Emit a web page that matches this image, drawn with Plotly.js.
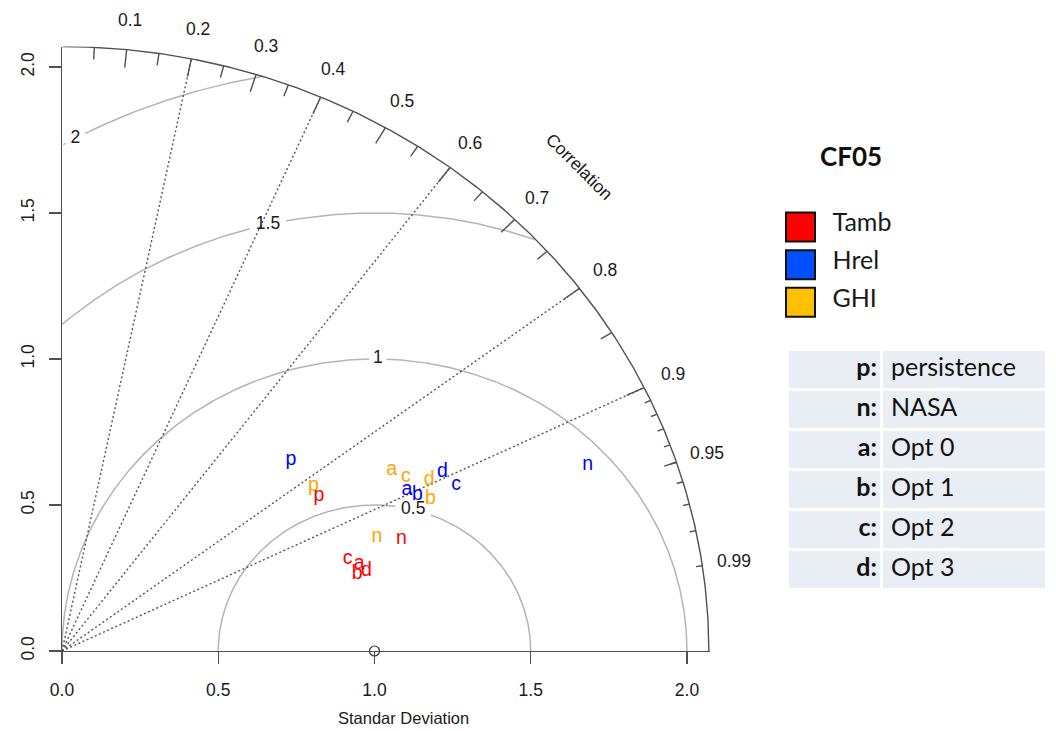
<!DOCTYPE html>
<html><head><meta charset="utf-8">
<script src="https://cdn.plot.ly/plotly-3.0.1.min.js"></script>
<style>html,body{margin:0;padding:0;background:#fff}</style>
</head><body><div id="chart" style="width:1056px;height:731px"></div>
<script>
// ---------------- data ----------------
const variables = ['Tamb', 'Hrel', 'GHI'];
const letterColors = ['#ff0000', '#0000ff', '#ffa500'];
const legendColors = ['#ff0000', '#0050ff', '#ffc000'];
const modelCodes = ['p', 'n', 'a', 'b', 'c', 'd'];
const modelNames = ['persistence', 'NASA', 'Opt 0', 'Opt 1', 'Opt 2', 'Opt 3'];
// normalised standard deviation and correlation per model (p, n, a, b, c, d)
const tambSD  = [0.979, 1.152, 0.997, 0.981, 0.967, 1.012];
const tambCor = [0.840, 0.943, 0.954, 0.963, 0.945, 0.963];
const hrelSD  = [0.982, 1.799, 1.233, 1.257, 1.383, 1.363];
const hrelCor = [0.746, 0.935, 0.895, 0.905, 0.912, 0.893];
const ghiSD   = [0.982, 1.080, 1.224, 1.289, 1.252, 1.313];
const ghiCor  = [0.819, 0.933, 0.862, 0.915, 0.879, 0.895];
const refSD = 1.0;
const maxSD = 2.07;
const sdTicks = [0, 0.5, 1, 1.5, 2];
const sdTickText = ['0.0', '0.5', '1.0', '1.5', '2.0'];
const corLabels = [0.1, 0.2, 0.3, 0.4, 0.5, 0.6, 0.7, 0.8, 0.9, 0.95, 0.99];
const corBigTicks = [0.1, 0.2, 0.3, 0.4, 0.5, 0.6, 0.7, 0.8, 0.9];
const corMedTicks = [0.05, 0.15, 0.25, 0.35, 0.45, 0.55, 0.65, 0.75, 0.85, 0.95];
const corSmallTicks = [0.91, 0.92, 0.93, 0.94, 0.95, 0.96, 0.97, 0.98, 0.99];
const corLines = [0.2, 0.4, 0.6, 0.8, 0.9];
const rmsRadii = [0.5, 1, 1.5, 2];
const rmsLabelIdx = [45, 53, 61, 70]; // plotrix label positions along the 0.03-rad sampled curve

// ---------------- helpers ----------------
const X_DOM = [62 / 1056, 710.4 / 1056], X_RANGE = [0, 2.075];
const Y_DOM = [1 - 651 / 731, 1 - 46.6 / 731], Y_RANGE = [0, 2.07];
const PXX = 312.5, PXY = 292; // px per data unit (used only for label gaps)
function polar(sd, cor) { return [sd * cor, sd * Math.sqrt(Math.max(0, 1 - cor * cor))]; }
function paperX(x) { return X_DOM[0] + (x - X_RANGE[0]) / (X_RANGE[1] - X_RANGE[0]) * (X_DOM[1] - X_DOM[0]); }
function paperY(y) { return Y_DOM[0] + (y - Y_RANGE[0]) / (Y_RANGE[1] - Y_RANGE[0]) * (Y_DOM[1] - Y_DOM[0]); }
const FONT = 'Liberation Sans, Arial, sans-serif';
const LFONT = 'Lato, sans-serif';
const TXT = '#1a1a1a';
const traces = [];
const annotations = [];

// RMS circles around the reference point, with gaps behind their labels
const rmsLabX = [], rmsLabY = [], rmsLabT = [];
rmsRadii.forEach((g, i) => {
  const a = (rmsLabelIdx[i] - 1) * 0.03;
  rmsLabX.push(refSD + g * Math.cos(a));
  rmsLabY.push(g * Math.sin(a));
  rmsLabT.push(String(g));
});
{
  const xs = [], ys = [];
  rmsRadii.forEach((g, i) => {
    const halfW = rmsLabT[i].length * 4.9 + 3, halfH = 10;
    let prevIn = false;
    for (let t = 0; t <= Math.PI + 1e-9; t += 0.004) {
      const x = refSD + g * Math.cos(t), y = g * Math.sin(t);
      const inside = x >= 0 && (x * x + y * y) <= maxSD * maxSD &&
        !(Math.abs((x - rmsLabX[i]) * PXX) < halfW && Math.abs((y - rmsLabY[i]) * PXY) < halfH);
      if (inside) { xs.push(x); ys.push(y); }
      else if (prevIn) { xs.push(null); ys.push(null); }
      prevIn = inside;
    }
    xs.push(null); ys.push(null);
  });
  traces.push({type: 'scatter', mode: 'lines', x: xs, y: ys, line: {color: '#b4b4b4', width: 1.5},
    hoverinfo: 'skip', showlegend: false, xaxis: 'x', yaxis: 'y'});
}

// dotted correlation lines
{
  const xs = [], ys = [];
  corLines.forEach(c => { const p = polar(maxSD, c); xs.push(0, p[0], null); ys.push(0, p[1], null); });
  traces.push({type: 'scatter', mode: 'lines', x: xs, y: ys, line: {color: '#555', width: 1.4, dash: '2px,2.5px'},
    hoverinfo: 'skip', showlegend: false, xaxis: 'x', yaxis: 'y'});
}

// outer arc and correlation ticks
{
  const xs = [], ys = [];
  for (let t = 0; t <= Math.PI / 2 + 1e-9; t += 0.005) { xs.push(maxSD * Math.cos(t)); ys.push(maxSD * Math.sin(t)); }
  xs.push(null); ys.push(null);
  const addTicks = (arr, f) => arr.forEach(c => {
    const o = polar(maxSD, c), n = polar(maxSD * f, c);
    xs.push(o[0], n[0], null); ys.push(o[1], n[1], null);
  });
  addTicks(corBigTicks, 0.97); addTicks(corMedTicks, 0.98); addTicks(corSmallTicks, 0.99);
  traces.push({type: 'scatter', mode: 'lines', x: xs, y: ys, line: {color: '#505050', width: 1.4},
    hoverinfo: 'skip', showlegend: false, xaxis: 'x', yaxis: 'y', cliponaxis: false});
}

// correlation labels (some lie outside the axis ranges -> paper-referenced annotations)
corLabels.forEach(c => {
  const p = polar(maxSD * 1.05, c);
  annotations.push({xref: 'paper', yref: 'paper', x: paperX(p[0]), y: paperY(p[1]), text: String(c), showarrow: false,
    xanchor: 'center', yanchor: 'middle', font: {family: FONT, size: 17.5, color: TXT}});
});

// RMS labels
traces.push({type: 'scatter', mode: 'text', x: rmsLabX, y: rmsLabY, text: rmsLabT, textposition: 'middle center',
  textfont: {family: FONT, size: 17.5, color: TXT}, cliponaxis: false,
  hoverinfo: 'skip', showlegend: false, xaxis: 'x', yaxis: 'y'});

// reference point
traces.push({type: 'scatter', mode: 'markers', x: [refSD], y: [0],
  marker: {symbol: 'circle-open', size: 10, color: '#333', line: {width: 1.2, color: '#333'}},
  cliponaxis: false, hoverinfo: 'skip', showlegend: false, xaxis: 'x', yaxis: 'y'});

// model points (letters)
const sdSets = [tambSD, hrelSD, ghiSD];
const corSets = [tambCor, hrelCor, ghiCor];
[2, 1, 0].forEach(i => {
  const pts = sdSets[i].map((s, k) => polar(s, corSets[i][k]));
  traces.push({type: 'scatter', mode: 'text', name: variables[i],
    x: pts.map(p => p[0]), y: pts.map(p => p[1]), text: modelCodes, textposition: 'middle center',
    textfont: {family: FONT, size: 19.5, color: letterColors[i]}, cliponaxis: false,
    hovertemplate: variables[i] + ' %{text}<extra></extra>', showlegend: false, xaxis: 'x', yaxis: 'y'});
});

// legend (squares + names) on hidden axes x2/y2 (units: px)
const legendLabelX = 32;
traces.push({type: 'scatter', mode: 'markers', x: variables.map(() => 0), y: variables.map((v, i) => i),
  marker: {symbol: 'square', size: 29, color: legendColors, line: {color: '#111', width: 2}},
  hoverinfo: 'skip', showlegend: false, xaxis: 'x2', yaxis: 'y2', cliponaxis: false});
traces.push({type: 'scatter', mode: 'text', x: variables.map(() => legendLabelX), y: variables.map((v, i) => i - 0.05),
  text: variables, textposition: 'middle right', textfont: {family: LFONT, size: 25, color: TXT},
  hoverinfo: 'skip', showlegend: false, xaxis: 'x2', yaxis: 'y2', cliponaxis: false});

// key table on hidden axes x3/y3: cells as a gapped heatmap, texts as text traces
const colEdges = [0, 94, 259];
traces.push({type: 'heatmap', x: colEdges, y: modelCodes.map((c, i) => i),
  z: modelCodes.map(() => [1, 1]), colorscale: [[0, '#e9edf4'], [1, '#e9edf4']], showscale: false,
  xgap: 3, ygap: 3, hoverinfo: 'skip', xaxis: 'x3', yaxis: 'y3'});
traces.push({type: 'scatter', mode: 'text', x: modelCodes.map(() => colEdges[1] - 5), y: modelCodes.map((c, i) => i),
  text: modelCodes.map(c => c + ':'), textposition: 'middle left',
  textfont: {family: LFONT, size: 25, color: '#111', weight: 'bold'},
  hoverinfo: 'skip', showlegend: false, xaxis: 'x3', yaxis: 'y3', cliponaxis: false});
traces.push({type: 'scatter', mode: 'text', x: modelNames.map(() => colEdges[1] + 9), y: modelNames.map((c, i) => i),
  text: modelNames, textposition: 'middle right',
  textfont: {family: LFONT, size: 25, color: '#111'},
  hoverinfo: 'skip', showlegend: false, xaxis: 'x3', yaxis: 'y3', cliponaxis: false});

// axis title and block title
annotations.push({xref: 'x', yref: 'y', x: maxSD * 0.8, y: maxSD * 0.8, text: 'Correlation', showarrow: false,
  textangle: 45, xanchor: 'center', yanchor: 'middle', font: {family: FONT, size: 17.5, color: TXT}});
annotations.push({xref: 'x', yref: 'paper', x: 1.094, y: 1 - 718 / 731, text: 'Standar Deviation', showarrow: false,
  xanchor: 'center', yanchor: 'middle', font: {family: FONT, size: 16.5, color: TXT}});
annotations.push({xref: 'paper', yref: 'paper', x: 851 / 1056, y: 1 - 156 / 731, text: '<b>CF05</b>', showarrow: false,
  xanchor: 'center', yanchor: 'middle', font: {family: LFONT, size: 26, color: '#111'}});

// ---------------- layout ----------------
const axisCommon = {showgrid: false, zeroline: false, showline: true, linecolor: '#505050', linewidth: 1.4,
  ticks: 'outside', ticklen: 12, tickwidth: 1.4, tickcolor: '#505050',
  tickvals: sdTicks, ticktext: sdTickText, tickfont: {family: FONT, size: 17.5, color: TXT},
  fixedrange: true};
const hidden = {visible: false, fixedrange: true, showgrid: false, zeroline: false};
const layout = {
  width: 1056, height: 731, margin: {l: 0, r: 0, t: 0, b: 0},
  paper_bgcolor: '#fff', plot_bgcolor: 'rgba(0,0,0,0)', showlegend: false,
  font: {family: FONT},
  xaxis: Object.assign({}, axisCommon, {domain: X_DOM, range: X_RANGE, anchor: 'y', ticklabelstandoff: 11}),
  yaxis: Object.assign({}, axisCommon, {domain: Y_DOM, range: Y_RANGE, anchor: 'x', tickangle: -90, ticklabelstandoff: 8}),
  xaxis2: Object.assign({}, hidden, {domain: [740 / 1056, 1], range: [-60.5, 255.5], anchor: 'y2'}),
  yaxis2: Object.assign({}, hidden, {domain: [1 - 335 / 731, 1 - 195 / 731], range: [2.868, -0.85], anchor: 'x2'}),
  xaxis3: Object.assign({}, hidden, {domain: [788 / 1056, 1047 / 1056], range: [0, 259], anchor: 'y3'}),
  yaxis3: Object.assign({}, hidden, {domain: [1 - 590 / 731, 1 - 350 / 731], range: [5.5, -0.5], anchor: 'x3'}),
  annotations: annotations
};
Plotly.newPlot('chart', traces, layout, {displayModeBar: false, staticPlot: true});
</script>
</body></html>
